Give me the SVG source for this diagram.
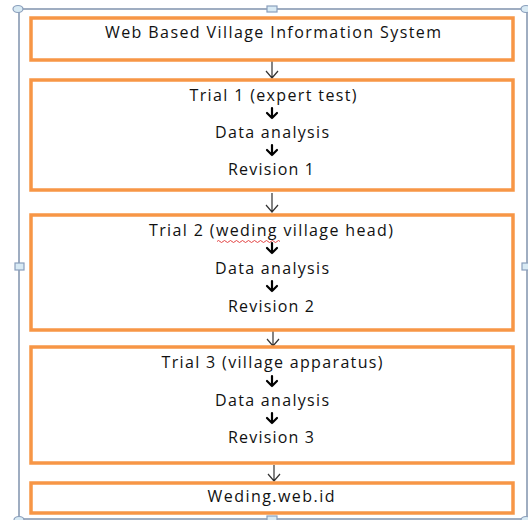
<svg xmlns="http://www.w3.org/2000/svg" width="528" height="520" viewBox="0 0 528 520">
<defs>
<style>
.box{fill:#fff;stroke:#f79646;stroke-width:3.5}
.t{font-family:"Open Sans","Liberation Sans",sans-serif;font-size:16px;font-weight:500;fill:#111;text-anchor:middle}
.con{stroke:#333;stroke-width:1.2;fill:none}
.small{stroke:#000;stroke-width:2.2;fill:none;stroke-linecap:round;stroke-linejoin:round}
.frame{stroke:#8093ad;stroke-width:1.5;fill:none}
.handle{fill:#d8eaf4;stroke:#8a9fbc;stroke-width:1.2}
</style>
</defs>
<rect width="528" height="520" fill="#fff"/>
<g id="frame">
<rect class="frame" x="19" y="9" width="508" height="510"/>
<ellipse class="handle" cx="18" cy="9" rx="5" ry="3.5"/>
<ellipse class="handle" cx="526" cy="9" rx="5" ry="3.5"/>
<ellipse class="handle" cx="19" cy="520" rx="5" ry="3.5"/>
<ellipse class="handle" cx="526" cy="520" rx="5" ry="3.5"/>
<rect class="handle" x="267" y="6" width="10" height="6"/>
<rect class="handle" x="267" y="516" width="10" height="6"/>
<rect class="handle" x="15" y="263" width="9" height="7"/>
<rect class="handle" x="522" y="263" width="9" height="7"/>
</g>
<g id="connectors">
<path class="con" d="M272 61V78M266 71L272 78L278 71"/>
<path class="con" d="M272 193V212M266 205L272 212L278 205"/>
<path class="con" d="M273 331V346M267 339L273 346L279 339"/>
<path class="con" d="M274 465V481M268 474L274 481L280 474"/>
</g>
<g id="n1">
<rect class="box" x="31" y="18" width="482" height="42"/>
<text class="t" x="273" y="38" textLength="336" lengthAdjust="spacing">Web Based Village Information System</text>
</g>
<g id="n2">
<rect class="box" x="31" y="80" width="482" height="110"/>
<text class="t" x="273" y="101" textLength="167" lengthAdjust="spacing">Trial 1 (expert test)</text>
<path class="small" d="M272 108V118M267 113L272 118L277 113"/>
<text class="t" x="272" y="138" textLength="114" lengthAdjust="spacing">Data analysis</text>
<path class="small" d="M272 145V155M267 150L272 155L277 150"/>
<text class="t" x="271" y="175" textLength="86" lengthAdjust="spacing">Revision 1</text>
</g>
<g id="n3">
<rect class="box" x="31" y="215" width="482" height="115"/>
<text class="t" x="271" y="236" textLength="244" lengthAdjust="spacing">Trial 2 (weding village head)</text>
<path d="M217 241.5q1.5-2 3 0t3 0t3 0t3 0t3 0t3 0t3 0t3 0t3 0t3 0t3 0t3 0t3 0t3 0t3 0t3 0t3 0t3 0t3 0t3 0t3 0" stroke="#e03030" stroke-width="0.9" fill="none"/>
<path class="small" d="M272 243V253M267 248L272 253L277 248"/>
<text class="t" x="272" y="274" textLength="114" lengthAdjust="spacing">Data analysis</text>
<path class="small" d="M272 281V291M267 286L272 291L277 286"/>
<text class="t" x="271" y="312" textLength="86" lengthAdjust="spacing">Revision 2</text>
</g>
<g id="n4">
<rect class="box" x="31" y="347" width="482" height="116"/>
<text class="t" x="272" y="368" textLength="221" lengthAdjust="spacing">Trial 3 (village apparatus)</text>
<path class="small" d="M272 376V386M267 381L272 386L277 381"/>
<text class="t" x="272" y="406" textLength="114" lengthAdjust="spacing">Data analysis</text>
<path class="small" d="M272 413V423M267 418L272 423L277 418"/>
<text class="t" x="271" y="443" textLength="86" lengthAdjust="spacing">Revision 3</text>
</g>
<g id="n5">
<rect class="box" x="31" y="483" width="482" height="30"/>
<text class="t" x="271" y="502" textLength="127" lengthAdjust="spacing">Weding.web.id</text>
</g>
</svg>
